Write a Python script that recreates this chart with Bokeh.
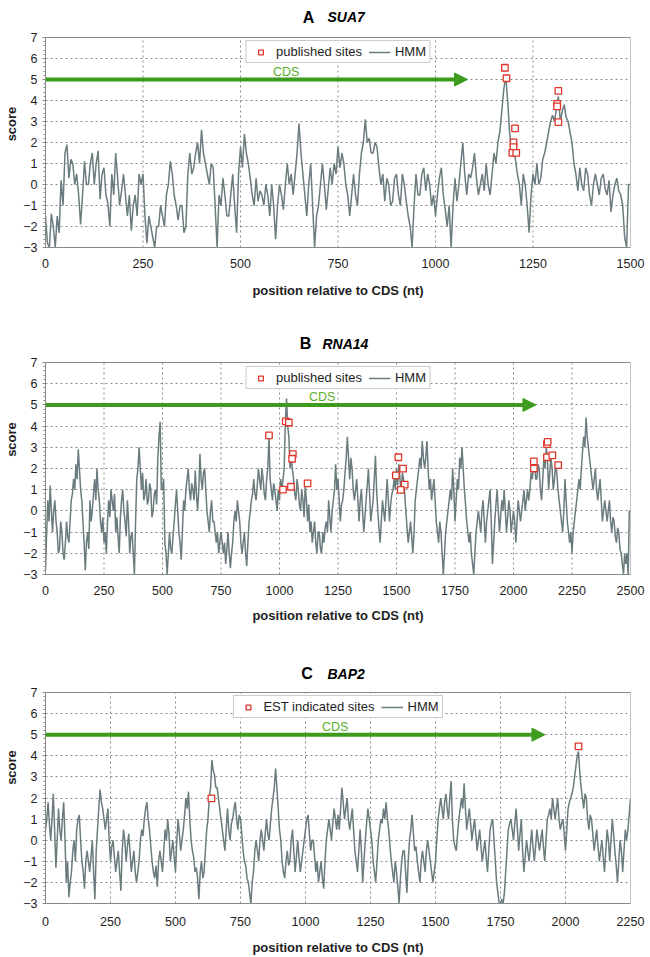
from bokeh.plotting import figure
from bokeh.models import (Range1d, Label, Arrow, NormalHead, Legend, LegendItem,
                          FixedTicker)
from bokeh.layouts import column
from bokeh.embed import file_html
from bokeh.resources import INLINE

# ---------------- data ----------------
STEP = 5  # nt between successive HMM score readings

# Panel A: SUA7 (positions 0..1500)
sua7_score = [
    -1.5, -2.8, -3.0, -1.4, -2.0, -3.0, -1.5, -2.3, 0.2, -1.0, 1.5, 1.9, 0.3, 1.2, 1.0, 0.0, 0.5, -0.5, -1.9, -0.5,
    1.1, 0.0, 0.0, 1.0, 1.5, 0.0, 1.0, 1.6, -0.7, 0.5, 0.8, -0.5, -0.9, -2.0, 0.5, -0.5, 1.5, 0.3, -1.0, -0.3,
    0.5, -0.5, -1.5, -0.5, -2.2, -1.0, -0.5, -1.5, 0.5, 0.0, 0.5, -1.5, -2.8, -1.5, -2.0, -2.5, -3.0, -2.0, -2.0, -1.0,
    -1.5, -2.0, -0.5, 0.0, 1.1, 0.5, -0.5, -1.0, -1.7, -1.0, -1.0, -2.3, -2.0, 0.5, 1.5, 0.5, 0.8, 1.5, 2.0, 1.0,
    2.6, 1.5, 1.0, 0.5, 0.0, 1.0, 0.8, -1.0, -3.0, -0.5, -1.0, 0.3, -0.5, -1.5, -1.5, -0.5, 0.5, -1.0, -2.3, 0.5,
    1.8, 0.8, 2.4, 1.5, 1.0, 0.3, -0.5, -1.0, 0.3, -0.8, -0.3, -0.5, -1.0, 0.0, -0.5, -1.5, 0.0, -1.0, -2.6, -1.0,
    0.0, -0.5, -1.2, 0.0, 1.0, 0.0, 0.5, -0.5, 0.5, 1.5, 2.9, 1.5, 0.5, -0.5, -1.5, 0.0, 1.0, -1.0, -3.0, -1.5,
    -1.0, 0.0, 1.0, 0.0, -1.2, -0.2, 0.8, 0.0, 1.0, 0.5, 1.8, 0.8, 1.5, 1.0, 0.0, -0.5, -1.5, -0.5, 0.5, -0.5,
    -1.0, 0.5, 1.5, 2.0, 3.1, 2.0, 2.2, 1.5, 1.5, 2.0, 1.8, 0.8, 0.0, 0.5, -0.8, 0.3, 0.0, -1.0, -0.8, 0.3,
    0.5, -0.5, -1.0, 0.5, 0.0, -0.8, -1.5, -2.0, -3.0, -1.0, 0.5, -0.5, -0.5, 0.5, 0.8, -0.3, 0.5, 0.0, -1.0, -0.5,
    -1.5, -0.5, 0.3, 0.8, -0.5, -1.2, -2.0, -1.0, -3.0, -1.0, 0.3, -0.8, 0.0, 1.0, 2.0, 0.5, -0.5, 0.5, 0.3, 0.8,
    1.5, 0.3, -0.5, 0.0, 0.5, -0.3, 1.0, 0.0, -0.5, 0.5, 1.5, 1.0, 2.0, 2.5, 3.5, 4.5, 5.2, 4.0, 2.5, 1.5,
    2.0, 1.2, 0.5, 0.0, -1.0, 0.5, 0.0, -1.0, -2.3, -0.5, 0.5, 0.0, 1.0, 0.0, 0.3, 1.2, 1.5, 2.0, 2.5, 3.0,
    3.3, 3.0, 3.6, 4.2, 3.0, 3.5, 3.8, 3.2, 3.0, 2.5, 2.0, 1.0, 0.5, -0.3, 0.8, 0.0, -0.3, 0.8, 0.5, -0.5,
    -1.0, 0.0, 0.5, 0.0, -0.5, 0.3, 0.5, -0.2, -0.5, 0.2, -1.3, -0.5, 0.0, 0.3, -0.3, -0.5, -1.0, -2.5, -3.0, 0.0,
    0.0,
]
sua7_site_x = [1178, 1182, 1204, 1200, 1200, 1197, 1207, 1312, 1312, 1315, 1315]
sua7_site_y = [5.56, 5.06, 2.67, 2.01, 1.78, 1.51, 1.51, 3.84, 3.72, 4.46, 2.97]

# Panel B: RNA14 (positions 0..2500)
rna14_score = [
    -2.8, -1.0, 0.5, -0.5, 1.2, 0.0, -1.0, 0.0, 0.5, -0.5, -1.0, -2.0, -1.8, -0.5, -1.0, -2.0, -2.3, -1.5, -0.5, -1.2,
    -1.5, -0.5, 0.5, 0.8, 1.5, 1.0, 2.2, 1.5, 2.9, 2.0, 1.0, 0.5, -0.5, -1.5, -2.8, -1.5, -1.0, -1.8, 0.5, -0.5,
    0.0, 0.8, 1.5, 0.5, 2.0, 1.0, 0.5, -0.5, -1.0, -0.3, -1.5, -1.0, -2.0, -0.5, 0.5, -0.3, 1.0, 0.5, 0.0, 0.8,
    -1.0, -0.3, -1.2, -2.0, -0.3, 0.5, 1.0, 0.0, -0.5, -1.2, 0.5, -0.5, -2.0, -1.2, -1.0, -2.0, -3.0, -0.5, 1.5, 2.0,
    3.0, 2.0, 1.0, 1.8, 0.5, 0.8, 1.5, 0.3, 0.5, 1.3, 1.0, -0.3, 0.0, 0.8, 1.0, 0.3, 2.5, 3.5, 4.2, 1.0,
    1.0, 1.5, -1.5, -2.0, -3.0, -2.0, -1.0, -1.8, -2.0, -1.2, -0.5, 0.3, 1.0, 0.0, -1.0, -1.5, -2.3, -1.0, 0.5, 0.0,
    1.0, 1.5, 2.0, 1.0, 0.5, 1.3, 1.0, 0.5, 1.9, 0.8, 0.0, 1.0, 2.7, 1.5, 1.0, 1.8, 2.0, 1.0, 0.0, -0.5,
    -1.0, 0.0, 0.5, -0.5, -0.5, -1.0, -1.5, -1.0, -2.0, -1.5, -1.0, -1.5, -2.0, -1.5, -2.5, -1.8, -1.0, -2.0, -2.7, -2.0,
    -1.5, -0.5, 0.0, -0.5, 0.5, 0.0, -0.5, -1.5, -2.0, -1.5, -1.0, -2.0, -2.6, -1.5, -0.5, 0.0, 0.5, 0.8, 1.5, 0.8,
    0.5, 1.2, 2.0, 1.5, 1.0, 2.0, 1.5, 0.8, 0.5, 1.5, 2.0, 3.5, 1.5, 1.0, 0.5, 1.3, 1.0, 0.5, 0.0, 1.0,
    0.5, 1.5, 1.0, 1.5, 2.0, 4.2, 5.3, 4.0, 3.5, 2.0, 2.5, 2.0, 1.5, 0.8, 0.5, 1.5, 1.0, 0.3, 0.0, 1.0,
    0.5, -0.3, 1.2, 0.5, -0.5, 0.3, -1.0, -0.5, -1.5, -1.0, -0.5, -1.5, -2.0, -1.0, -1.0, -1.8, -2.0, -1.0, -1.5, -0.8,
    -0.5, -1.0, 0.5, -0.3, -1.0, 0.0, 0.5, 1.0, 2.2, 1.0, 1.5, 0.5, -0.5, 0.3, 0.5, 1.0, 1.8, 2.5, 3.5, 2.5,
    1.5, 2.5, 2.0, 1.0, 0.5, 1.0, 1.5, 0.5, -0.5, 0.5, 1.0, 0.0, -1.0, -0.3, 0.5, 1.2, 2.0, 0.8, -0.5, 0.0,
    0.5, 1.5, 2.6, 1.0, 0.0, -0.8, -1.5, -0.5, 0.5, 0.0, -0.5, 0.5, 1.5, 0.5, -0.5, 0.3, 0.8, 1.0, 1.5, 1.0,
    2.0, 1.2, 2.2, 1.5, 0.8, 1.8, 1.5, 0.8, 0.0, -0.8, -1.5, -1.0, -0.5, -1.2, -2.0, -1.0, 0.5, 1.0, 1.5, 2.0,
    2.5, 2.0, 3.3, 2.5, 2.0, 2.5, 3.3, 2.0, 1.0, 1.5, 0.5, 1.0, 1.5, 0.5, -0.5, -1.0, -1.5, -0.5, -1.0, -2.0,
    -3.0, -2.0, -1.0, -0.5, 0.0, 0.5, 1.0, 0.5, 2.0, 1.0, -0.5, 0.5, 1.5, 1.0, 2.5, 2.0, 3.0, 2.0, 1.0, 0.3,
    -0.5, -1.0, -1.5, -1.0, -2.0, -2.5, -3.0, -2.0, -1.0, -0.5, 0.0, -0.5, -1.0, 0.0, 0.5, -0.5, -1.5, -0.5, 0.0, 0.5,
    1.0, -0.5, -2.5, -1.5, -0.5, 0.3, 1.0, 0.0, -1.0, -0.3, 0.5, 0.0, 1.0, 0.0, -1.0, -0.3, 0.5, 0.0, -1.0, -0.5,
    0.0, -0.5, -1.5, -0.5, 0.5, 0.0, -0.5, 0.0, 0.5, 1.0, 0.0, 0.5, 1.0, 0.5, 1.0, 1.8, 1.5, 2.0, 2.3, 1.5,
    1.5, 2.2, 2.0, 1.0, 0.5, 1.5, 2.5, 2.0, 3.0, 2.5, 1.0, 1.8, 2.5, 2.0, 1.0, 1.5, 2.2, 1.8, 1.0, 0.5,
    0.0, -0.5, -1.0, 0.0, 1.5, 0.5, -0.5, -1.0, -1.5, -1.0, -2.0, -1.0, -0.5, 0.0, 0.5, 1.0, 1.5, 1.0, 2.0, 2.8,
    3.5, 3.0, 4.4, 3.5, 3.0, 2.5, 2.0, 1.5, 1.0, 1.5, 2.0, 1.0, 0.5, 1.0, 1.5, 0.5, -0.5, 0.0, 0.5, 0.0,
    -0.5, 0.0, 0.5, -0.5, -1.0, -0.3, -0.5, -1.2, -1.5, -0.8, -1.0, -1.8, -2.0, -2.5, -3.0, -2.0, -2.5, -2.0, -3.0, 0.0,
    0.0,
]
rna14_site_x = [955, 1027, 1040, 1057, 1054, 1015, 1049, 1120, 1497, 1508,
                1528, 1535, 1518, 2087, 2087, 2143, 2146, 2143, 2166, 2191]
rna14_site_y = [3.56, 4.22, 4.17, 2.68, 2.46, 1.00, 1.14, 1.30, 1.68, 2.53,
                1.99, 1.24, 0.99, 2.00, 2.34, 3.15, 3.26, 2.53, 2.62, 2.16]

# Panel C: BAP2 (positions 0..2250)
bap2_score = [
    0.5, 1.0, 1.8, 0.8, 0.0, 1.0, 2.2, 0.5, -1.3, 0.0, 1.5, 0.5, 0.0, 1.0, 1.8, 0.0, -2.0, -1.0, -2.7, -2.0,
    -1.5, -0.5, 0.0, -1.0, 0.5, 1.0, 1.2, 0.0, -1.0, -1.5, -2.3, -1.0, -0.5, -1.0, -1.5, -0.8, 0.0, -1.5, -2.8, -0.5,
    0.5, 1.5, 2.4, 1.8, 1.5, 1.0, 0.5, 1.0, 1.5, 0.0, -1.0, -0.3, 0.0, -0.8, -1.5, -1.0, -0.5, -1.5, -2.4, -0.5,
    0.5, 0.0, -1.0, -0.3, 0.3, -0.5, -1.5, -1.0, -0.5, -1.5, -2.0, -1.5, -1.0, 0.0, 0.5, 0.2, 1.0, 1.5, 1.8, 1.0,
    0.5, -0.3, -1.0, -1.5, -1.8, -1.2, -2.2, -1.0, -0.5, -1.0, -1.5, -0.5, 0.5, 0.0, 1.0, 0.3, -1.0, -0.5, 0.0, -0.8,
    -1.5, 0.0, 1.0, 0.3, -0.5, 0.0, 0.5, 1.2, 2.0, 1.5, 2.3, 1.0, 0.0, -0.5, -0.8, -1.5, -1.3, -1.8, -2.8, -1.5,
    -1.0, -1.8, -1.5, -0.5, 0.5, 1.0, 2.0, 2.5, 3.8, 3.3, 3.1, 2.5, 2.5, 2.0, 1.5, 1.0, 0.5, 0.0, -0.5, 0.5,
    1.5, 0.5, 0.0, 0.8, 1.0, 1.5, 1.8, 1.0, 0.5, 1.2, 1.0, 0.3, -0.5, -1.0, -1.2, -1.8, -2.0, -2.5, -3.0, -2.0,
    -1.5, -0.5, 0.0, -0.5, -1.0, 0.0, 0.5, 0.0, -0.5, 0.3, 1.0, 0.3, 0.0, 0.8, 1.5, 2.0, 2.5, 3.4, 2.5, 1.5,
    0.5, 0.0, -1.0, -1.5, -1.8, -1.0, -0.5, -1.2, -1.0, 0.0, 0.5, -0.5, -1.5, -0.8, 0.0, -0.8, -1.5, -1.0, -0.5, 0.0,
    0.5, 1.0, 1.2, 0.3, -0.5, 0.0, 0.0, -0.8, -1.5, -1.0, -2.0, -1.5, -1.0, -1.8, -2.3, -1.0, 0.0, 0.5, 1.0, 0.5,
    0.0, 0.8, 1.5, 1.0, 0.5, 1.2, 0.5, 1.5, 2.5, 1.8, 1.0, 1.5, 2.0, 1.0, 0.5, 1.0, 1.5, 0.5, -0.5, -1.0,
    -1.5, -0.5, 0.5, -0.5, -2.0, -1.0, 0.0, 0.8, 1.5, 1.0, 0.5, 0.0, -1.0, -1.5, -2.0, -1.0, 0.0, 0.5, 1.0, 0.8,
    1.5, 1.0, 1.8, 1.0, 0.5, -0.3, -1.0, -1.5, -2.0, -1.0, -1.5, -2.2, -3.0, -1.8, -1.0, -0.5, -0.5, -1.5, -2.5, -1.0,
    0.0, 0.5, 1.2, 0.3, -0.5, -0.3, -1.0, -1.5, -2.0, -1.0, -0.5, -1.0, -1.5, -0.5, 0.0, -0.5, -1.0, -1.5, -2.0, -1.5,
    -1.0, 0.0, 1.0, 1.5, 2.0, 1.5, 1.0, 1.8, 2.2, 1.5, 1.0, 2.0, 2.8, 1.0, 0.0, -0.3, -0.5, 0.3, 1.0, 1.5,
    2.0, 1.5, 2.7, 1.5, 0.5, 1.0, 1.5, 0.8, 0.0, 0.5, 1.0, 0.3, -0.5, 0.0, 0.5, -0.3, -1.0, -0.5, 0.0, -0.8,
    -1.5, -0.5, 0.5, 0.8, 1.0, 0.0, -1.0, -2.0, -2.5, -3.0, -3.0, -2.8, -3.0, -2.5, -1.5, -0.5, 0.5, 0.8, 1.0, 0.5,
    0.0, 0.8, 1.5, 0.5, -0.5, 0.3, 1.0, -0.5, -1.5, -0.8, 0.0, -0.5, -1.0, -0.3, 0.5, -0.3, -1.0, -0.3, 0.5, 0.0,
    -0.5, 0.0, 0.5, -0.3, -1.0, 0.0, 1.0, 1.2, 1.5, 1.0, 2.0, 1.5, 1.0, 1.5, 2.0, 1.0, 0.5, 0.8, 1.0, 0.3,
    -0.5, 0.5, 1.5, 1.8, 2.0, 2.2, 2.5, 3.0, 3.5, 4.0, 4.2, 3.2, 2.5, 2.0, 1.5, 2.2, 2.0, 1.0, 0.5, 1.2,
    1.0, 0.3, -0.5, 0.0, 0.5, -0.3, -1.0, -0.5, 0.0, -0.8, -1.5, -0.5, 0.5, 0.0, -1.0, 0.0, 1.0, 0.3, -0.5, -1.2,
    -2.0, -1.0, 0.0, -0.5, -1.5, -0.5, 0.5, 0.0, 0.5, 1.2, 2.0,
]
bap2_site_x = [638, 2050]
bap2_site_y = [1.98, 4.45]

y_ticks = [-3, -2, -1, 0, 1, 2, 3, 4, 5, 6, 7]

# ---------------- styling ----------------
FONT = "Liberation Sans"
LINE = "#6b7c7e"
RED = "#e0352b"
GREEN = "#3d9b1d"
CDS_GREEN = "#5aaf2c"
GRIDC = "#8a8a8a"
BOX = "#8a8a8a"
TEXT = "#1e1e1e"
W = 650
LEFT, RIGHT = 45, 20


def panel(letter, gene, scores, xmax, sx, sy, site_label, cds_end, cds_lab_x,
          head_px, plot_px, bottom, legend_top, letter_x, gene_x, title_base,
          tick_standoff, label_standoff):
    """head_px: space above the score box that holds the panel title;
    plot_px: pixel height of the -3..7 score box."""
    ylo, yhi = y_ticks[0], y_ticks[-1]
    top_val = yhi + head_px * (yhi - ylo) / plot_px
    frame_h = head_px + plot_px
    p = figure(width=W, height=frame_h + bottom, x_range=Range1d(0, xmax),
               y_range=Range1d(ylo, top_val), output_backend="svg",
               toolbar_location=None, min_border_left=LEFT,
               min_border_right=RIGHT, min_border_top=0,
               min_border_bottom=bottom, background_fill_color="white",
               border_fill_color="white")
    p.outline_line_color = None

    xt = list(range(0, xmax + 1, 250))
    p.xaxis.ticker = FixedTicker(ticks=xt)
    p.yaxis.ticker = FixedTicker(ticks=y_ticks,
                                 minor_ticks=[ylo + 0.2 * i for i in range(51)])
    p.yaxis.bounds = (ylo, yhi)
    for ax in (p.xaxis[0], p.yaxis[0]):
        ax.axis_line_color = BOX
        ax.major_tick_line_color = BOX
        ax.minor_tick_line_color = BOX
        ax.major_label_text_font = FONT
        ax.major_label_text_font_size = "12.5px"
        ax.major_label_text_color = TEXT
        ax.major_tick_in = 0
        ax.minor_tick_in = 0
        ax.axis_label_text_font = FONT
        ax.axis_label_text_font_size = "13px"
        ax.axis_label_text_font_style = "bold"
        ax.axis_label_text_color = TEXT
    p.xaxis.major_tick_out = 0
    p.xaxis.minor_tick_out = 0
    p.yaxis.major_tick_out = 3
    p.yaxis.minor_tick_out = 2
    p.yaxis.major_label_standoff = 5
    p.yaxis.axis_label = "score"
    p.yaxis.axis_label_standoff = 1
    p.xaxis.major_label_standoff = tick_standoff
    p.xaxis.axis_label = "position relative to CDS (nt)"
    p.xaxis.axis_label_standoff = label_standoff

    # horizontal dotted grid at the score ticks
    p.xgrid.visible = False
    p.ygrid.ticker = FixedTicker(ticks=y_ticks)
    p.ygrid.grid_line_color = GRIDC
    p.ygrid.grid_line_dash = "2 3"
    # vertical dotted grid only inside the score box
    inner = xt[1:-1]
    p.segment(x0=inner, y0=[ylo] * len(inner), x1=inner, y1=[yhi] * len(inner),
              line_color=GRIDC, line_dash="2 3", line_width=1)
    # the plot-area box
    p.quad(left=[0], right=[xmax], bottom=[ylo], top=[yhi], fill_color=None,
           line_color=BOX, line_width=1)

    pos = list(range(0, xmax + 1, STEP))
    r_line = p.line(pos, scores, line_color=LINE, line_width=1.5)
    r_pts = p.scatter(sx, sy, marker="square", size=6.5, line_color=RED,
                      fill_color="white", line_width=1.3)

    p.add_layout(Arrow(end=NormalHead(size=13, fill_color=GREEN, line_color=GREEN),
                       x_start=0, y_start=5, x_end=cds_end, y_end=5,
                       line_color=GREEN, line_width=4))
    p.add_layout(Label(x=cds_lab_x, y=5.38, text="CDS", text_color=CDS_GREEN,
                       text_font=FONT, text_font_size="12.5px",
                       text_align="center", text_baseline="middle"))

    legend = Legend(items=[LegendItem(label=site_label, renderers=[r_pts]),
                           LegendItem(label="HMM", renderers=[r_line])],
                    location="top_center", orientation="horizontal",
                    margin=legend_top, padding=3, spacing=6, label_standoff=5,
                    glyph_width=22, glyph_height=12,
                    label_text_font=FONT, label_text_font_size="13px",
                    label_text_color=TEXT, border_line_color="#9a9a9a",
                    background_fill_color="white", background_fill_alpha=1)
    p.add_layout(legend)

    # panel title, in pixels from the frame's bottom-left corner
    base = frame_h - title_base
    p.add_layout(Label(x=letter_x - LEFT, y=base, x_units="screen",
                       y_units="screen", text=letter, text_font=FONT,
                       text_font_size="16px", text_font_style="bold",
                       text_color="black", text_align="center",
                       text_baseline="alphabetic"))
    p.add_layout(Label(x=gene_x - LEFT, y=base, x_units="screen",
                       y_units="screen", text=gene, text_font=FONT,
                       text_font_size="14px", text_font_style="bold italic",
                       text_color="black", text_align="left",
                       text_baseline="alphabetic"))
    return p


pA = panel("A", "SUA7", sua7_score, 1500, sua7_site_x, sua7_site_y,
           "published sites", 1082, 617, head_px=37, plot_px=210, bottom=57,
           legend_top=40, letter_x=308, gene_x=327, title_base=16.7,
           tick_standoff=11, label_standoff=12)
pB = panel("B", "RNA14", rna14_score, 2500, rna14_site_x, rna14_site_y,
           "published sites", 2096, 1182, head_px=58, plot_px=212, bottom=57,
           legend_top=62, letter_x=305, gene_x=322, title_base=39.3,
           tick_standoff=11, label_standoff=10)
pC = panel("C", "BAP2", bap2_score, 2250, bap2_site_x, bap2_site_y,
           "EST indicated sites", 1921, 1114, head_px=61, plot_px=211,
           bottom=54, legend_top=64, letter_x=306.5, gene_x=327,
           title_base=42.3, tick_standoff=13, label_standoff=11)

layout = column(pA, pB, pC, spacing=0)
open("out.html", "w").write(file_html(layout, INLINE))
